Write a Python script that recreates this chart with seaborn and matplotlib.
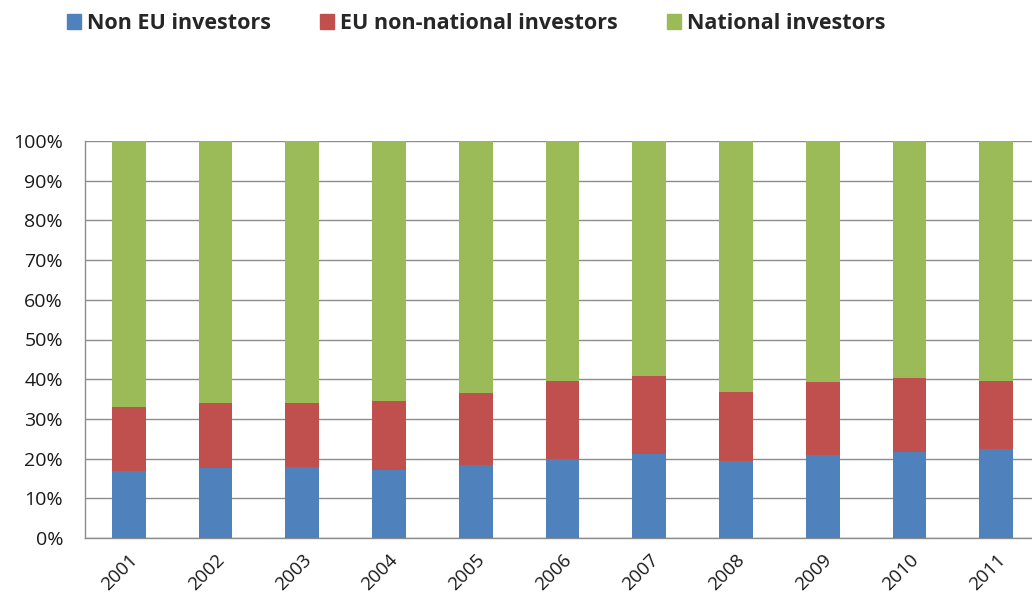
import numpy as np
import pandas as pd
import seaborn as sns
import matplotlib.pyplot as plt
from matplotlib.patches import Patch

years = ['2001', '2002', '2003', '2004', '2005', '2006', '2007', '2008', '2009', '2010', '2011']
non_eu = [17.0, 17.7, 17.8, 17.2, 18.5, 19.8, 21.2, 19.3, 20.8, 21.7, 22.4]
eu_non_national = [15.9, 16.3, 16.2, 17.3, 17.9, 19.7, 19.7, 17.6, 18.5, 18.6, 17.1]
national = [67.1, 66.0, 66.0, 65.5, 63.6, 60.5, 59.1, 63.1, 60.7, 59.7, 60.5]

names = ['Non EU investors', 'EU non-national investors', 'National investors']
colors = ['#4F81BD', '#C0504D', '#9BBB59']

df = pd.DataFrame({'year': years, 'non_eu': non_eu, 'eu': eu_non_national, 'nat': national})
df['top_eu'] = df['non_eu'] + df['eu']
df['top_nat'] = df['top_eu'] + df['nat']

sns.set_style('white')
plt.rcParams['font.family'] = ['Open Sans', 'DejaVu Sans']

fig = plt.figure(figsize=(10.32, 5.98), dpi=100)
ax = fig.add_axes([85.3 / 1032, 60 / 598, (1039.7 - 85.3) / 1032, 397 / 598])

# stacked bars: draw cumulative totals from the top down
sns.barplot(x='year', y='top_nat', data=df, color=colors[2], width=0.39, saturation=1, ax=ax, zorder=3)
sns.barplot(x='year', y='top_eu', data=df, color=colors[1], width=0.39, saturation=1, ax=ax, zorder=3)
sns.barplot(x='year', y='non_eu', data=df, color=colors[0], width=0.39, saturation=1, ax=ax, zorder=3)
for p in ax.patches:
    p.set_linewidth(0)

ax.set_xlim(-0.5, 10.5)
ax.set_ylim(0, 100)
ax.set_yticks(np.arange(0, 101, 10))
ax.set_yticklabels([f'{v}%' for v in range(0, 101, 10)], fontsize=14, color='#1a1a1a')
ax.yaxis.grid(True, color='#8c8c8c', linewidth=1, zorder=0)
ax.set_axisbelow(True)
ax.tick_params(axis='y', length=5, color='#8c8c8c', width=1, pad=11)

ax.set_xticks(range(len(years)))
ax.set_xticklabels(years, rotation=45, ha='right', rotation_mode='anchor', fontsize=13.5, color='#1a1a1a')
ax.set_xticks(np.arange(-0.5, 11, 1), minor=True)
ax.tick_params(axis='x', which='major', length=0, pad=9)
ax.tick_params(axis='x', which='minor', length=6, color='#8c8c8c', width=1)
ax.set_xlabel('')
ax.set_ylabel('')

for s in ['top', 'right']:
    ax.spines[s].set_visible(False)
for s in ['left', 'bottom']:
    ax.spines[s].set_color('#8c8c8c')
    ax.spines[s].set_linewidth(1)

handles = [Patch(color=c, label=n) for c, n in zip(colors, names)]
fig.legend(handles=handles, loc='upper left', bbox_to_anchor=(67 / 1032, 1 - 13 / 598), ncol=3, frameon=False,
           prop={'weight': 'bold', 'size': 15.5}, handlelength=0.65, handleheight=0.65,
           handletextpad=0.3, columnspacing=2.25, borderpad=0, borderaxespad=0)

fig.savefig('out.png', dpi=100)
